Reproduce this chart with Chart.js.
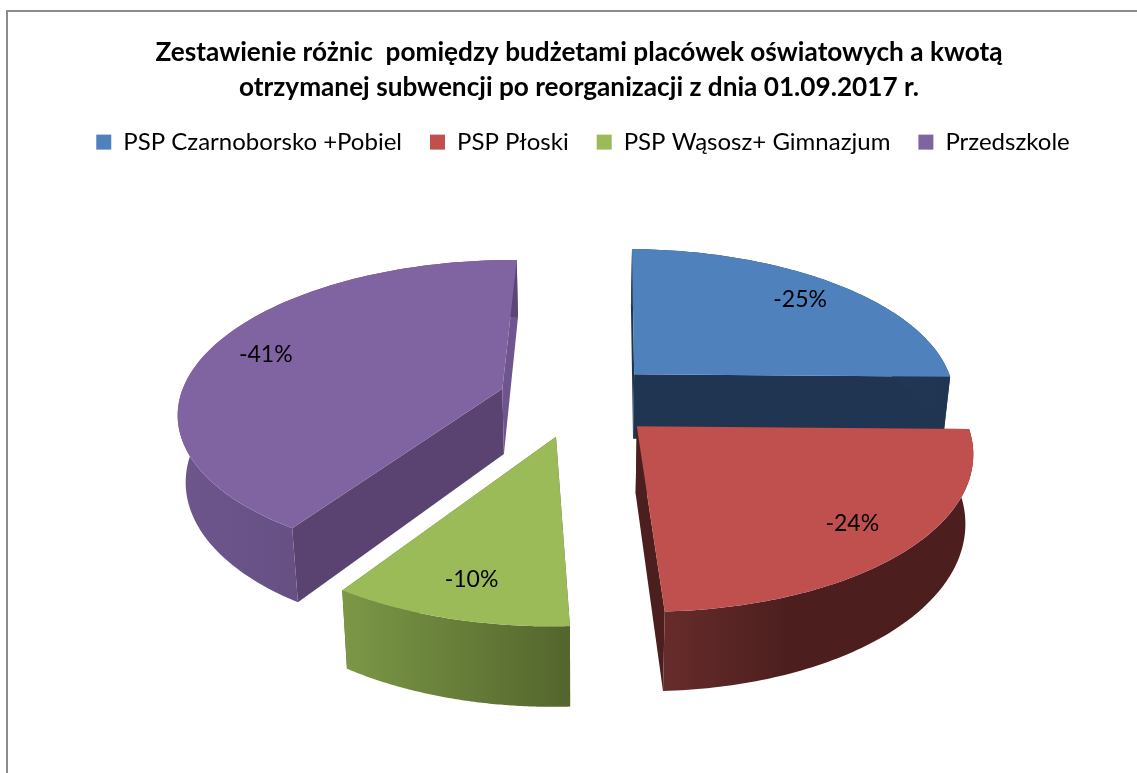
<!DOCTYPE html>
<html lang="pl">
<head>
<meta charset="utf-8">
<title>Zestawienie różnic</title>
<script src="https://cdn.jsdelivr.net/npm/chart.js@4"></script>
<style>
    html, body { margin: 0; background: #fff; }
    #wrap { width: 1137px; height: 773px; position: relative; }
</style>
</head>
<body>
<div id="wrap"><canvas id="pieChart" width="1137" height="773"></canvas></div>
<script>
const categories = ['PSP Czarnoborsko +Pobiel', 'PSP Płoski', 'PSP Wąsosz+ Gimnazjum', 'Przedszkole'];
const differences = [-25, -24, -10, -41];
const titleLines = ['Zestawienie różnic  pomiędzy budżetami placówek oświatowych a kwotą',
    'otrzymanej subwencji po reorganizacji z dnia 01.09.2017 r.'];
const topColors = ['#4F81BD', '#C0504D', '#9BBB59', '#8064A2'];

// side faces: [wall at start angle, wall at end angle, outer wall left, outer wall right]
const sideColors = [
    ['#1F3552', '#1F3552', '#2A4566', '#1F3552'],
    ['#4C1F1E', '#4C1F1E', '#662C2B', '#4C1F1E'],
    ['#56682F', '#56682F', '#7B9846', '#54652D'],
    ['#5A4370', '#6F5590', '#6D568B', '#5C4478']
];
// where along the slice width the outer wall reaches its right colour
const wallFade = [1, 0.4, 1, 1];

// view of the tilted pie
const TILT = 0.465;
const PERSPECTIVE = 0.145;
const DEPTH = 66;
const BOTTOM_SHRINK = 0.98;
const LABEL_AT = 0.81;
const DRAW_ORDER = [3, 0, 2, 1];

function project(arc, u, v, lowered) {
    const s = 1 / (1 - PERSPECTIVE * v / arc.outerRadius);
    let x = u * s;
    let y = TILT * v * s;
    if (lowered) {
        x *= BOTTOM_SHRINK;
        y += DEPTH * s;
    }
    return { x: arc.x + x, y: arc.y + y };
}

// point on a slice, t = share of the radius, angle in canvas radians
function slicePoint(arc, angle, t, lowered) {
    const mid = (arc.startAngle + arc.endAngle) / 2;
    const offset = arc.options.offset;
    const u = Math.cos(mid) * offset + Math.cos(angle) * arc.outerRadius * t;
    const v = Math.sin(mid) * offset + Math.sin(angle) * arc.outerRadius * t;
    return project(arc, u, v, lowered);
}

function rimPoints(arc, lowered) {
    const steps = 90;
    const points = [];
    for (let i = 0; i <= steps; i++) {
        const angle = arc.startAngle + (arc.endAngle - arc.startAngle) * i / steps;
        points.push(slicePoint(arc, angle, 1, lowered));
    }
    return points;
}

function fillPoly(ctx, points, fill) {
    ctx.beginPath();
    points.forEach((p, i) => i ? ctx.lineTo(p.x, p.y) : ctx.moveTo(p.x, p.y));
    ctx.closePath();
    ctx.fillStyle = fill;
    ctx.fill();
}

const pie3d = {
    id: 'pie3d',
    afterLayout(chart) {
        // the original title and legend are not centred on the pie
        chart.titleBlock.left += 1;
        chart.titleBlock.right += 1;
        chart.legend.left += 5;
        chart.legend.right += 5;
        chart.legend.top -= 2;
        chart.legend.bottom -= 2;
    },
    beforeDraw(chart) {
        const ctx = chart.ctx;
        ctx.save();
        ctx.strokeStyle = '#8C8C8C';
        ctx.lineWidth = 2;
        ctx.beginPath();
        ctx.moveTo(7, 773);
        ctx.lineTo(7, 11);
        ctx.lineTo(1137, 11);
        ctx.stroke();
        ctx.restore();
    },
    beforeDatasetDraw(chart, args) {
        const ctx = chart.ctx;
        const arcs = args.meta.data;
        ctx.save();
        DRAW_ORDER.forEach(i => {
            const arc = arcs[i];
            const sides = sideColors[i];
            const apex = slicePoint(arc, 0, 0, false);
            const apexLow = slicePoint(arc, 0, 0, true);
            const top = rimPoints(arc, false);
            const low = rimPoints(arc, true);

            fillPoly(ctx, [apex, top[0], low[0], apexLow], sides[0]);
            fillPoly(ctx, [apex, top[top.length - 1], low[low.length - 1], apexLow], sides[1]);

            const xs = top.map(p => p.x);
            const grad = ctx.createLinearGradient(Math.min(...xs), 0, Math.max(...xs), 0);
            grad.addColorStop(0, sides[2]);
            grad.addColorStop(wallFade[i], sides[3]);
            fillPoly(ctx, top.concat(low.slice().reverse()), grad);

            fillPoly(ctx, [apex].concat(top), arc.options.backgroundColor);
        });
        ctx.restore();
        return false;
    },
    afterDatasetsDraw(chart) {
        const ctx = chart.ctx;
        const arcs = chart.getDatasetMeta(0).data;
        ctx.save();
        ctx.font = '23px Lato';
        ctx.fillStyle = '#000';
        ctx.textAlign = 'center';
        ctx.textBaseline = 'middle';
        arcs.forEach((arc, i) => {
            const mid = (arc.startAngle + arc.endAngle) / 2;
            const p = slicePoint(arc, mid, LABEL_AT, false);
            ctx.fillText(differences[i] + '%', p.x, p.y);
        });
        ctx.restore();
    }
};

new Chart(document.getElementById('pieChart'), {
    type: 'pie',
    data: {
        labels: categories,
        datasets: [{
            data: differences,
            backgroundColor: topColors,
            borderWidth: 0,
            offset: 80
        }]
    },
    plugins: [pie3d],
    options: {
        responsive: false,
        animation: false,
        radius: 323,
        rotation: 1,
        layout: { padding: { left: 19, top: 0, bottom: 140 } },
        plugins: {
            tooltip: { enabled: false },
            title: {
                display: true,
                text: titleLines,
                color: '#000',
                font: { family: 'Lato', size: 26.2, weight: 'bold', lineHeight: 1.3 },
                padding: { top: 36, bottom: 0 }
            },
            legend: {
                position: 'top',
                labels: {
                    color: '#000',
                    font: { family: 'Lato', size: 24 },
                    boxWidth: 15,
                    boxHeight: 15,
                    padding: 28
                }
            }
        }
    }
});
</script>
</body>
</html>
